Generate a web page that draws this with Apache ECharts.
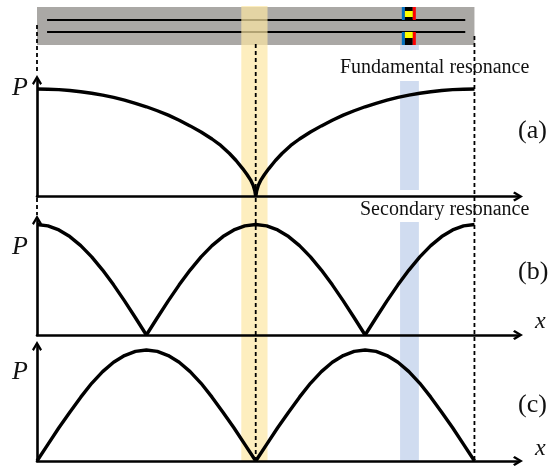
<!DOCTYPE html>
<html><head><meta charset="utf-8">
<style>html,body{margin:0;padding:0;background:#fff}#c{width:550px;height:467px}</style>
<script src="https://cdn.jsdelivr.net/npm/echarts@6/dist/echarts.min.js"></script>
</head><body><div id="c"></div>
<script>
const positions = [0,.025,.05,.075,.1,.125,.15,.175,.2,.225,.25,.275,.3,.325,.35,.375,.4,.425,.45,.475,.5,.525,.55,.575,.6,.625,.65,.675,.7,.725,.75,.775,.8,.825,.85,.875,.9,.925,.95,.975,1];
const positionsA = [0,.025,.05,.075,.1,.125,.15,.175,.2,.225,.25,.275,.3,.325,.35,.375,.4,.42,.44,.455,.47,.48,.488,.494,.498,.5,.502,.506,.512,.52,.53,.545,.56,.58,.6,.625,.65,.675,.7,.725,.75,.775,.8,.825,.85,.875,.9,.925,.95,.975,1];
const powerA = [1,.998,.994,.986,.975,.961,.943,.922,.896,.867,.835,.798,.757,.71,.657,.6,.535,.475,.4,.335,.26,.205,.155,.105,.05,0,.05,.105,.155,.205,.26,.335,.4,.475,.535,.6,.657,.71,.757,.798,.835,.867,.896,.922,.943,.961,.975,.986,.994,.998,1];
const powerB = [1,.988,.951,.891,.809,.707,.588,.454,.309,.156,0,.156,.309,.454,.588,.707,.809,.891,.951,.988,1,.988,.951,.891,.809,.707,.588,.454,.309,.156,0,.156,.309,.454,.588,.707,.809,.891,.951,.988,1];
const powerC = [0,.15,.3,.44,.575,.7,.805,.89,.95,.988,1,.988,.95,.89,.805,.7,.575,.44,.3,.15,0,.15,.3,.44,.575,.7,.805,.89,.95,.988,1,.988,.95,.89,.805,.7,.575,.44,.3,.15,0];

// schematic rectangles: x from, x to, figure y from, figure y to, colour
const beamRect = [[0,1,7,45,'#aaa8a5']];
const magnetRects = [
 [.834,.841,7,20,'#0070c0'],[.841,.859,7,20,'#000000'],[.859,.866,7,20,'#ff0000'],[.841,.859,11,17,'#ffff00'],
 [.834,.841,32,45,'#0070c0'],[.841,.859,32,45,'#000000'],[.859,.866,32,45,'#ff0000'],[.841,.859,32,38,'#ffff00']
];
const yellowBand = [[.467,.527,6,461,'rgba(252,231,164,0.7)']];
const blueBands = [[.83,.873,45,50,'#d0dcf0'],[.83,.873,81,190,'#d0dcf0'],[.83,.873,222,461,'#d0dcf0']];
// segments: x from, figure y from, x to, figure y to
const beamLines = [[.023,20,.979,20],[.023,32,.979,32]];
const dashLines = [[0,25,0,74],[0,198,0,215],[.5,44,.5,461],[1,36,1,460]];

const arrow = 'path://M5 0 L10 8.4 L8.2 10 L5 4.4 L1.8 10 L0 8.4 Z';
const panels = [
 {top:80, height:116.5,yMax:1.084,x:positionsA,data:powerA},
 {top:220,height:115,  yMax:1.041,x:positions,data:powerB},
 {top:346,height:115,  yMax:1.036,x:positions,data:powerC}
];
function rectSeries(rows,z){return{type:'custom',xAxisIndex:3,yAxisIndex:3,z,silent:true,clip:false,data:rows,
 encode:{x:[0,1],y:[2,3]},
 renderItem(p,api){const a=api.coord([api.value(0),api.value(2)]),b=api.coord([api.value(1),api.value(3)]);
  return{type:'rect',shape:{x:a[0],y:a[1],width:b[0]-a[0],height:b[1]-a[1]},style:{fill:api.value(4)}};}};}
function segSeries(rows,z,w,dash){return{type:'custom',xAxisIndex:3,yAxisIndex:3,z,silent:true,clip:false,data:rows,
 encode:{x:[0,2],y:[1,3]},
 renderItem(p,api){const a=api.coord([api.value(0),api.value(1)]),b=api.coord([api.value(2),api.value(3)]);
  return{type:'line',shape:{x1:a[0],y1:a[1],x2:b[0],y2:b[1]},style:{stroke:'#000',lineWidth:w,lineDash:dash||null,fill:null}};}};}
const serif='"Liberation Serif","Times New Roman",serif';
function txt(x,y,text,size,italic){return{type:'text',x,y,z:20,silent:true,style:{text,fill:'#111',font:(italic?'italic ':'')+size+'px '+serif,verticalAlign:'middle'}};}
const grids=panels.map(p=>({left:37,width:481,top:p.top,height:p.height}));
grids.push({left:37,width:486,top:0,height:467});
const axisLine={show:true,symbol:['none',arrow],symbolSize:[10,10],lineStyle:{color:'#000',width:2.6}};
const xAxes=panels.map((p,i)=>({gridIndex:i,type:'value',min:0,max:1.0994,z:10,splitLine:{show:false},axisTick:{show:false},axisLabel:{show:false},axisLine}));
xAxes.push({gridIndex:3,type:'value',min:0,max:1.111,show:false});
const yAxes=panels.map((p,i)=>({gridIndex:i,type:'value',min:0,max:p.yMax,z:10,splitLine:{show:false},axisTick:{show:false},axisLabel:{show:false},axisLine}));
yAxes.push({gridIndex:3,type:'value',min:0,max:467,inverse:true,show:false});
const curves=panels.map((p,i)=>({type:'line',xAxisIndex:i,yAxisIndex:i,z:8,showSymbol:false,symbol:'none',silent:true,clip:false,
 data:p.x.map((x,k)=>[x,p.data[k]]),lineStyle:{color:'#000',width:3.4}}));
const chart=echarts.init(document.getElementById('c'),null,{renderer:'canvas'});
chart.setOption({animation:false,backgroundColor:'#fff',tooltip:{show:false},
 grid:grids,xAxis:xAxes,yAxis:yAxes,
 series:[rectSeries(blueBands,1),rectSeries(beamRect,2),segSeries(beamLines,3,2),rectSeries(magnetRects,3),rectSeries(yellowBand,4),segSeries(dashLines,9,1.8,[4,3]),...curves],
 graphic:[
  txt(340,68,'Fundamental resonance',20),txt(360,210,'Secondary resonance',20),
  txt(518,131,'(a)',26),txt(518,272,'(b)',26),txt(518,405,'(c)',26),
  txt(12,88,'P',26,true),txt(12,247,'P',26,true),txt(12,372,'P',26,true),
  txt(535,322,'x',24,true),txt(535,449,'x',24,true)
 ]});
</script></body></html>
